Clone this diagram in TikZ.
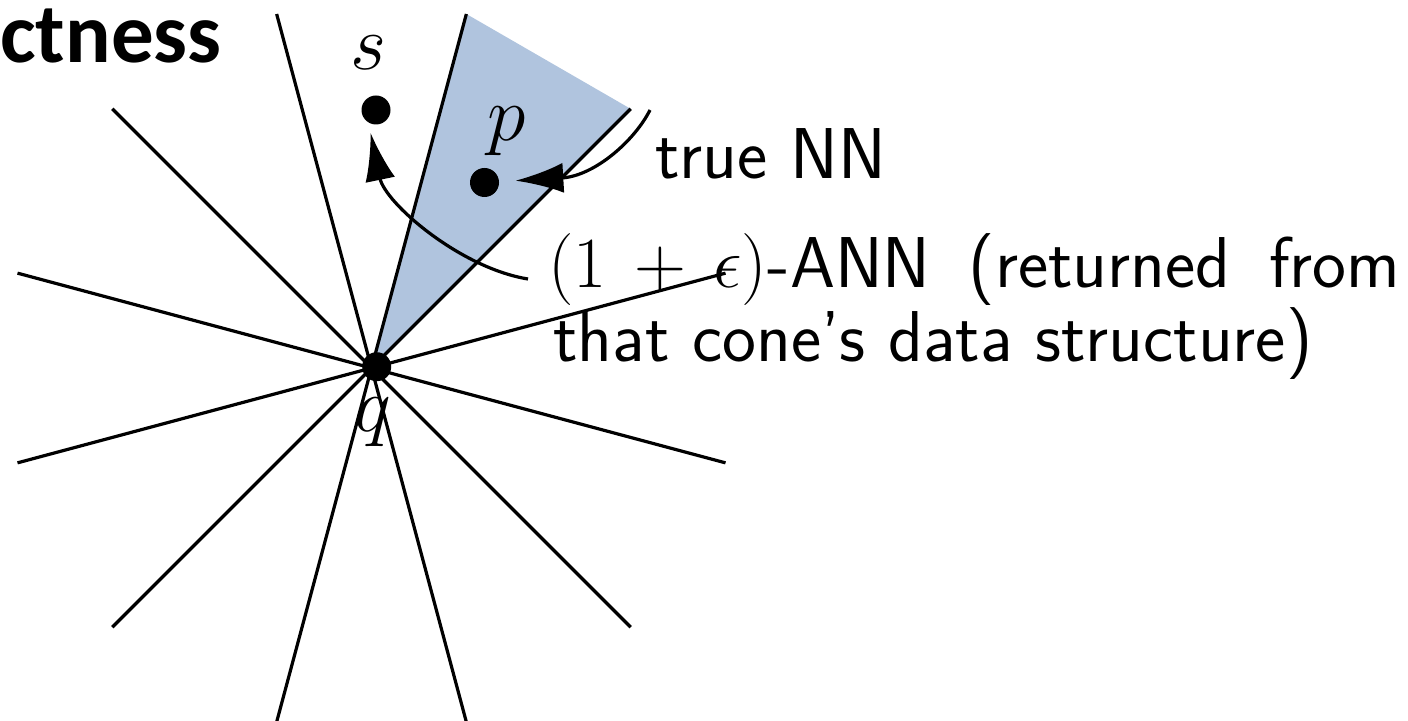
\documentclass[tikz,border=0pt]{standalone}
\usepackage{fix-cm}
\usepackage{fontspec}
\newfontfamily\titlefont{Carlito}
\usetikzlibrary{arrows.meta,calc}
\definecolor{conefill}{RGB}{176,196,222}
\begin{document}
\begin{tikzpicture}[x=0.5pt,y=-0.5pt,
  ray/.style={line width=1.6pt},
  dotnode/.style={circle, fill=black, inner sep=0pt, minimum size=14.5pt},
  arr/.style={line width=1.6pt, -{Latex[length=24pt,width=15pt]}},
  lbl/.style={font=\sffamily\fontsize{36}{40}\selectfont, inner sep=0pt, anchor=base west},
  mathlbl/.style={font=\fontsize{39}{41}\selectfont, inner sep=0pt, anchor=base}
]
\useasboundingbox (0,0) rectangle (1408,721);
\coordinate (c) at (371.5,368);
% shaded cone
\fill[conefill] (c) -- ($(c)+(-75:366.5)$) -- ($(c)+(-45:366.5)$) -- cycle;
% rays
\foreach \a in {15,45,75,105,135,165}{
  \draw[ray] ($(c)+(\a:366.5)$) -- ($(c)+(\a+180:366.5)$);
}
% points
\node[dotnode] (q) at (376.7,366.7) {};
\node[dotnode] (s) at (376,110) {};
\node[dotnode] (p) at (484.5,182.5) {};
\node[mathlbl] (slab) at (368,70) {$s$};
\node[mathlbl] (plab) at (507,141) {$p$};
\node[mathlbl] (qlab) at (373,432) {$q$};
% title
\node[font=\titlefont\bfseries\fontsize{42.5}{44}\selectfont, inner sep=0pt, anchor=base west] (title) at (0,63) {ctness};
% labels
\node[lbl] (nn) at (655,179) {true NN};
\node[lbl] (ann) at (548,288) {\makebox[426pt][s]{$(1+\epsilon)$-ANN (returned from}};
\node[lbl] (ann2) at (553,362) {that cone's data structure)};
% arrows
\coordinate (nnstart) at (650,110);
\coordinate (annstart) at (528,279);
\draw[arr, shorten >=8pt] (nnstart) .. controls (635,140) and (595,176) .. (p);
\draw[arr, shorten >=5pt] (annstart) .. controls (460,268) and (385,203) .. (s.240);
\end{tikzpicture}
\end{document}
